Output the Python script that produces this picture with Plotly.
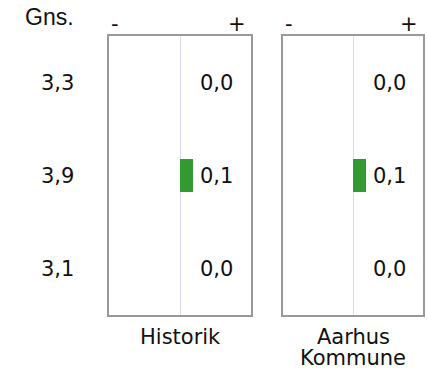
import plotly.graph_objects as go

rows = ["r1", "r2", "r3"]
averages = ["3,3", "3,9", "3,1"]
historik = [0.0, 0.1, 0.0]
aarhus = [0.0, 0.1, 0.0]
panel_titles = [["Historik"], ["Aarhus", "Kommune"]]
header_label = "Gns."
minus_label = "-"
plus_label = "+"

W, H = 428, 370
FONT = dict(family="DejaVu Sans, Verdana, sans-serif", size=21, color="#111111")
HFONT = dict(family="Liberation Sans, Arial, sans-serif", size=23, color="#111111")
GREEN = "#339933"
XR = [-0.55, 0.55]

def px_x(p):
    return p / W

def px_y(p):
    return 1 - p / H

fig = go.Figure()
series = [historik, aarhus]
domains = [[px_x(109), px_x(251)], [px_x(283), px_x(423)]]
ydom = [px_y(315), px_y(36)]

for i, vals in enumerate(series):
    xa = "x" if i == 0 else "x2"
    ya = "y" if i == 0 else "y2"
    fig.add_trace(go.Bar(
        x=vals, y=rows, orientation="h", width=0.36,
        marker=dict(color=GREEN, line=dict(width=0)),
        xaxis=xa, yaxis=ya, showlegend=False, hoverinfo="skip",
    ))
    for r, v in zip(rows, vals):
        fig.add_annotation(
            x=0.143, y=r, xref=xa, yref=ya, text=f"{v:.1f}".replace(".", ","),
            xanchor="left", yanchor="middle", showarrow=False, font=FONT,
        )

axis_common = dict(range=XR, showgrid=False, zeroline=True, zerolinecolor="#dcdcf0",
                   zerolinewidth=1, showline=True, mirror=True, linecolor="#999999",
                   linewidth=2, showticklabels=False, ticks="", fixedrange=True)
yaxis_common = dict(range=[2.5, -0.5], showgrid=False, zeroline=False, showline=True,
                    mirror=True, linecolor="#999999", linewidth=2,
                    showticklabels=False, ticks="", domain=ydom, type="category",
                    categoryorder="array", categoryarray=rows, fixedrange=True)

fig.update_layout(
    width=W, height=H,
    margin=dict(l=0, r=0, t=0, b=0),
    paper_bgcolor="white", plot_bgcolor="white",
    bargap=0,
    xaxis=dict(domain=domains[0], anchor="y", **axis_common),
    yaxis=dict(anchor="x", **yaxis_common),
    xaxis2=dict(domain=domains[1], anchor="y2", **axis_common),
    yaxis2=dict(anchor="x2", **yaxis_common),
    font=FONT,
)

# row averages
for r, a in zip(rows, averages):
    fig.add_annotation(x=px_x(76), y=r, xref="paper", yref="y", text=a,
                       xanchor="right", yanchor="middle", showarrow=False, font=FONT)

fig.add_annotation(x=px_x(76), y=px_y(17), xref="paper", yref="paper", text=header_label,
                   xanchor="right", yanchor="middle", showarrow=False, font=HFONT)

for d in domains:
    fig.add_annotation(x=d[0], y=px_y(24), xref="paper", yref="paper", text=minus_label,
                       xanchor="left", yanchor="middle", showarrow=False, font=FONT)
    fig.add_annotation(x=d[1] - px_x(3), y=px_y(24), xref="paper", yref="paper", text=plus_label,
                       xanchor="right", yanchor="middle", showarrow=False, font=FONT)

for d, lines in zip(domains, panel_titles):
    cx = (d[0] + d[1]) / 2
    for k, line in enumerate(lines):
        fig.add_annotation(x=cx, y=px_y(337 + 20.5 * k), xref="paper", yref="paper", text=line,
                           xanchor="center", yanchor="middle", showarrow=False, font=FONT)

fig.write_html("out.html", config={"displayModeBar": False},
               post_script="document.body.style.margin='0';")
